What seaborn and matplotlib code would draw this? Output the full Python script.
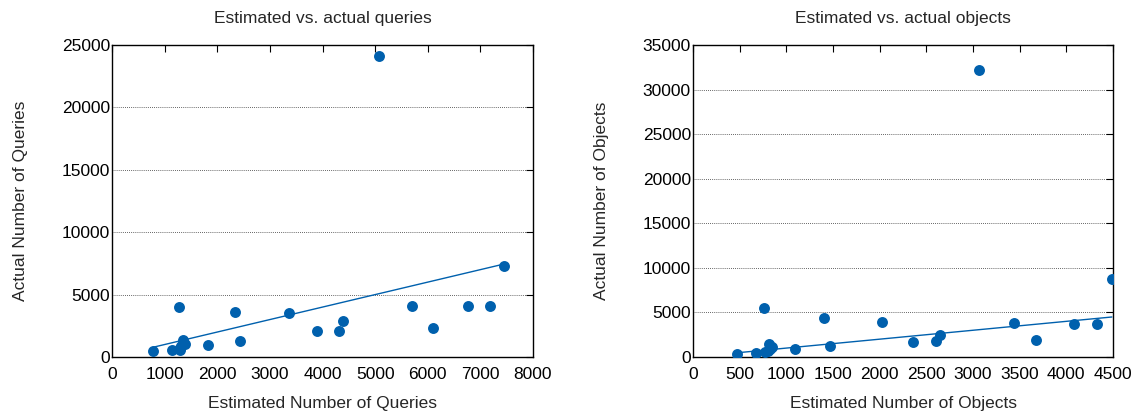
import matplotlib
matplotlib.use("Agg")
import matplotlib.pyplot as plt
import seaborn as sns
import pandas as pd

# Estimated vs. actual number of queries
queries_est = [785, 1135, 1270, 1290, 1300, 1320, 1355, 1390, 1820, 2330, 2430,
               3370, 3900, 4320, 4390, 5080, 5700, 6100, 6760, 7190, 7450]
queries_act = [480, 540, 4000, 600, 750, 900, 1330, 1080, 940, 3640, 1280,
               3540, 2050, 2080, 2850, 24100, 4120, 2310, 4070, 4070, 7310]

# Estimated vs. actual number of objects
objects_est = [471, 678, 763, 775, 800, 810, 820, 845, 1090, 1405, 1469,
               2029, 2360, 2602, 2645, 3067, 3437, 3679, 4078, 4328, 4488]
objects_act = [380, 450, 5500, 560, 700, 1430, 950, 1130, 940, 4420, 1200,
               3930, 1690, 1760, 2430, 32200, 3820, 1870, 3670, 3670, 8730]

query_xticks = list(range(0, 8001, 1000))
query_yticks = list(range(0, 25001, 5000))
object_xticks = list(range(0, 4501, 500))
object_yticks = list(range(0, 35001, 5000))

sns.set_style("white")
plt.rcParams["font.family"] = ["Liberation Sans", "DejaVu Sans"]
FS = 12.5
plt.rcParams["font.size"] = FS

BLUE = "#0060ad"

fig = plt.figure(figsize=(11.42, 4.17), dpi=100)
ax1 = fig.add_axes([112 / 1142, 60 / 417, 421 / 1142, 312 / 417])
ax2 = fig.add_axes([693 / 1142, 60 / 417, 420 / 1142, 312 / 417])

panels = [
    (ax1, queries_est, queries_act, query_xticks, query_yticks,
     "Estimated vs. actual queries", "Estimated Number of Queries",
     "Actual Number of Queries"),
    (ax2, objects_est, objects_act, object_xticks, object_yticks,
     "Estimated vs. actual objects", "Estimated Number of Objects",
     "Actual Number of Objects"),
]

for ax, est, act, xt, yt, title, xlabel, ylabel in panels:
    df = pd.DataFrame({"est": est, "act": act})
    # y = x reference over the range of estimates
    ref = pd.DataFrame({"x": [min(est), max(est)], "y": [min(est), max(est)]})
    sns.lineplot(data=ref, x="x", y="y", ax=ax, color=BLUE, lw=1.0, zorder=2)
    sns.scatterplot(data=df, x="est", y="act", ax=ax, color=BLUE, s=62,
                    linewidth=0, zorder=3)

    ax.set_xlim(xt[0], xt[-1])
    ax.set_ylim(yt[0], yt[-1])
    ax.set_xticks(xt)
    ax.set_yticks(yt)
    ax.tick_params(direction="in", length=5, width=0.8, top=True, right=True,
                   labelsize=FS, colors="black")
    ax.tick_params(axis="x", pad=7.5)
    ax.tick_params(axis="y", pad=1.5)
    ax.yaxis.grid(True, color="#333333", linestyle=(0, (1, 1.5)), lw=0.6)
    ax.xaxis.grid(False)
    for sp in ax.spines.values():
        sp.set_visible(True)
        sp.set_color("black")
        sp.set_linewidth(1.0)
    ax.set_title(title, fontsize=FS, pad=15.5)
    ax.set_xlabel(xlabel, fontsize=FS, labelpad=10)
    ax.set_ylabel(ylabel, fontsize=FS, labelpad=24)

fig.savefig("out.png", dpi=100)
